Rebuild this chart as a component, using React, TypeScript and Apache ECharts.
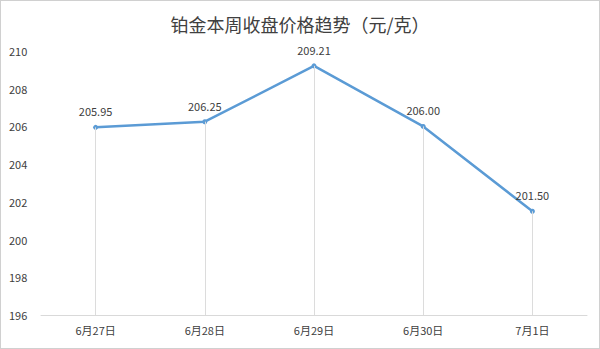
import React, { useEffect, useRef } from "react";
import * as echarts from "echarts";

const title = "铂金本周收盘价格趋势（元/克）";
const categories = ["6月27日", "6月28日", "6月29日", "6月30日", "7月1日"];
const prices = [205.95, 206.25, 209.21, 206.0, 201.5];
const yMin = 196;
const yMax = 210;
const yInterval = 2;

export default function App() {
  const ref = useRef<HTMLDivElement>(null);
  useEffect(() => {
    if (!ref.current) return;
    const chart = echarts.init(ref.current, undefined, { renderer: "svg" });
    const font = "'Microsoft YaHei', 'Noto Sans CJK SC', 'Noto Sans', sans-serif";
    chart.setOption({
      animation: false,
      backgroundColor: "#ffffff",
      title: {
        text: title,
        left: "center",
        top: 9,
        textStyle: { fontSize: 18, fontWeight: "normal", color: "#404040", fontFamily: font },
      },
      grid: { left: 40, right: 12, top: 50, bottom: 33 },
      xAxis: {
        type: "category",
        data: categories,
        boundaryGap: true,
        axisLine: { lineStyle: { color: "#d9d9d9", width: 1 } },
        axisTick: { show: false },
        axisLabel: { color: "#404040", fontSize: 11, margin: 9, fontFamily: font },
        splitLine: { show: false },
      },
      yAxis: {
        type: "value",
        min: yMin,
        max: yMax,
        interval: yInterval,
        axisLine: { show: false },
        axisTick: { show: false },
        splitLine: { show: false },
        axisLabel: { color: "#404040", fontSize: 11, align: "left", margin: 32, fontFamily: font },
      },
      series: [
        {
          type: "line",
          data: prices,
          symbol: "circle",
          symbolSize: 5,
          lineStyle: { color: "#5b9bd5", width: 2.5 },
          itemStyle: { color: "#5b9bd5" },
          label: {
            show: true,
            position: "top",
            distance: 8,
            color: "#404040",
            fontSize: 11,
            fontFamily: font,
            formatter: (p: any) => Number(p.value).toFixed(2),
          },
          markLine: {
            silent: true,
            symbol: "none",
            label: { show: false },
            lineStyle: { color: "#dcdcdc", width: 1, type: "solid" },
            data: prices.map((v, i) => [
              { coord: [i, v] },
              { coord: [i, yMin] },
            ]),
          },
          z: 3,
        },
      ],
    });
    return () => chart.dispose();
  }, []);
  return (
    <div
      style={{
        position: "fixed",
        left: 0,
        top: 0,
        width: 600,
        height: 349,
        boxSizing: "border-box",
        border: "1px solid #d0d0d0",
        background: "#fff",
      }}
    >
      <div ref={ref} style={{ width: 598, height: 347 }} />
    </div>
  );
}
